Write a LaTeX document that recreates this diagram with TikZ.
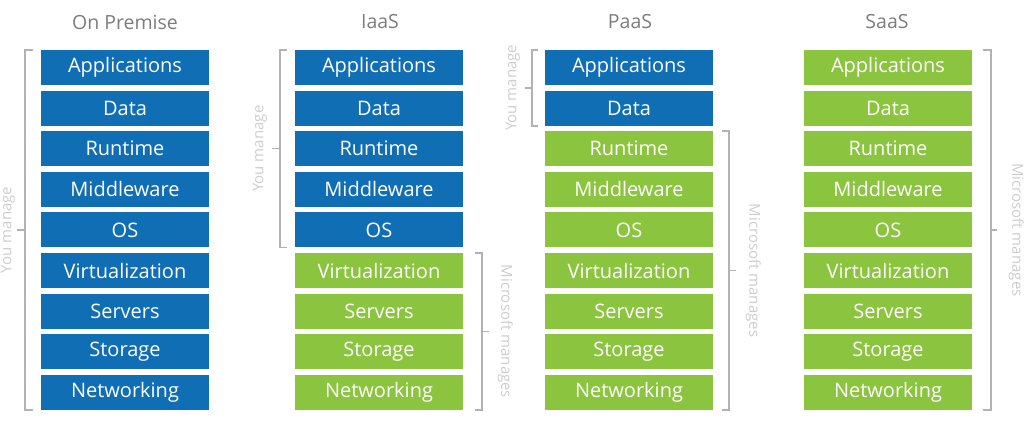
\documentclass[tikz,border=0pt]{standalone}
\usepackage{fontspec}
\setmainfont{Open Sans}
\definecolor{main}{RGB}{16,110,180}
\definecolor{second}{RGB}{139,196,62}
\definecolor{brk}{RGB}{178,178,178}
\definecolor{lbl}{RGB}{205,205,205}
\definecolor{ttl}{RGB}{125,125,125}
\usetikzlibrary{positioning,calc}
\tikzset{
  % layer box
	cstnode1/.style ={fill=main,text=white,minimum width=168pt,minimum height=35pt,inner sep=0pt,font=\fontsize{20}{20}\selectfont},
	cstnode2/.style ={cstnode1,fill=second},
  % text
	csttitle/.style ={text=ttl,font=\fontsize{19.5}{19.5}\selectfont},
	cstlabel/.style ={text=lbl,font=\fontsize{15}{15}\selectfont},
  % bracket
	cstbrace/.style ={brk,line width=1.6pt}
}

\begin{document}
\begin{tikzpicture}[x=1pt,y=-1pt]
	\useasboundingbox (0,0) rectangle (1024,422);
	% stacks: name/centre/how many rows are blue
	\foreach \c/\x/\n in {op/125/9,ia/379/5,pa/629/2,sa/888/0}{
		\foreach \t [count=\k] in {Applications,Data,Runtime,Middleware,OS,Virtualization,Servers,Storage,Networking}{
			\pgfmathtruncatemacro\s{\k>\n ? 2 : 1}
			\node[cstnode\s] (\c\k) at (\x,{67.5+40.6*(\k-1)}) {\t};
		}
	}
	\node[csttitle] (optitle) at (125,22) {On Premise};
	\node[csttitle] (iatitle) at (380,22) {IaaS};
	\node[csttitle] (patitle) at (630,22) {PaaS};
	\node[csttitle] (satitle) at (887,22) {SaaS};
	% on premise
	\draw[cstbrace] ($(op1.north west)+(-8,0)$) -- ++(-8,0) |- ($(op9.south west)+(-8,0)$);
	\draw[cstbrace] ($(op1.north west)!.5!(op9.south west)+(-16,0)$) -- ++(-8,0);
	\node[cstlabel,rotate=90] (opyou) at ($(op1.north west)!.5!(op9.south west)+(-33,0)$) {You manage};
	% iaas
	\draw[cstbrace] ($(ia1.north west)+(-8,0)$) -- ++(-7,0) |- ($(ia5.south west)+(-8,0)$);
	\draw[cstbrace] ($(ia1.north west)!.5!(ia5.south west)+(-15,0)$) -- ++(-8,0);
	\node[cstlabel,rotate=90] (iayou) at ($(ia1.north west)!.5!(ia5.south west)+(-35,0)$) {You manage};
	\draw[cstbrace] ($(ia6.north east)+(12,0)$) -- ++(7,0) |- ($(ia9.south east)+(12,0)$);
	\draw[cstbrace] ($(ia6.north east)!.5!(ia9.south east)+(19,0)$) -- ++(7,0);
	\node[cstlabel,rotate=-90] (iams) at ($(ia6.north east)!.5!(ia9.south east)+(42,0)$) {Microsoft manages};
	% paas
	\draw[cstbrace] ($(pa1.north west)+(-7,0)$) -- ++(-6,0) |- ($(pa2.south west)+(-7,0)$);
	\draw[cstbrace] ($(pa1.north west)!.5!(pa2.south west)+(-13,0)$) -- ++(-7,0);
	\node[cstlabel,rotate=90] (payou) at ($(pa1.north west)!.5!(pa2.south west)+(-32,0)$) {You manage};
	\draw[cstbrace] ($(pa3.north east)+(9,0)$) -- ++(7,0) |- ($(pa9.south east)+(9,0)$);
	\draw[cstbrace] ($(pa3.north east)!.5!(pa9.south east)+(16,0)$) -- ++(7,0);
	\node[cstlabel,rotate=-90] (pams) at ($(pa3.north east)!.5!(pa9.south east)+(40,0)$) {Microsoft manages};
	% saas
	\draw[cstbrace] ($(sa1.north east)+(11,0)$) -- ++(8,0) |- ($(sa9.south east)+(11,0)$);
	\draw[cstbrace] ($(sa1.north east)!.5!(sa9.south east)+(19,0)$) -- ++(6,0);
	\node[cstlabel,rotate=-90] (sams) at ($(sa1.north east)!.5!(sa9.south east)+(44,0)$) {Microsoft manages};
\end{tikzpicture}
\end{document}
